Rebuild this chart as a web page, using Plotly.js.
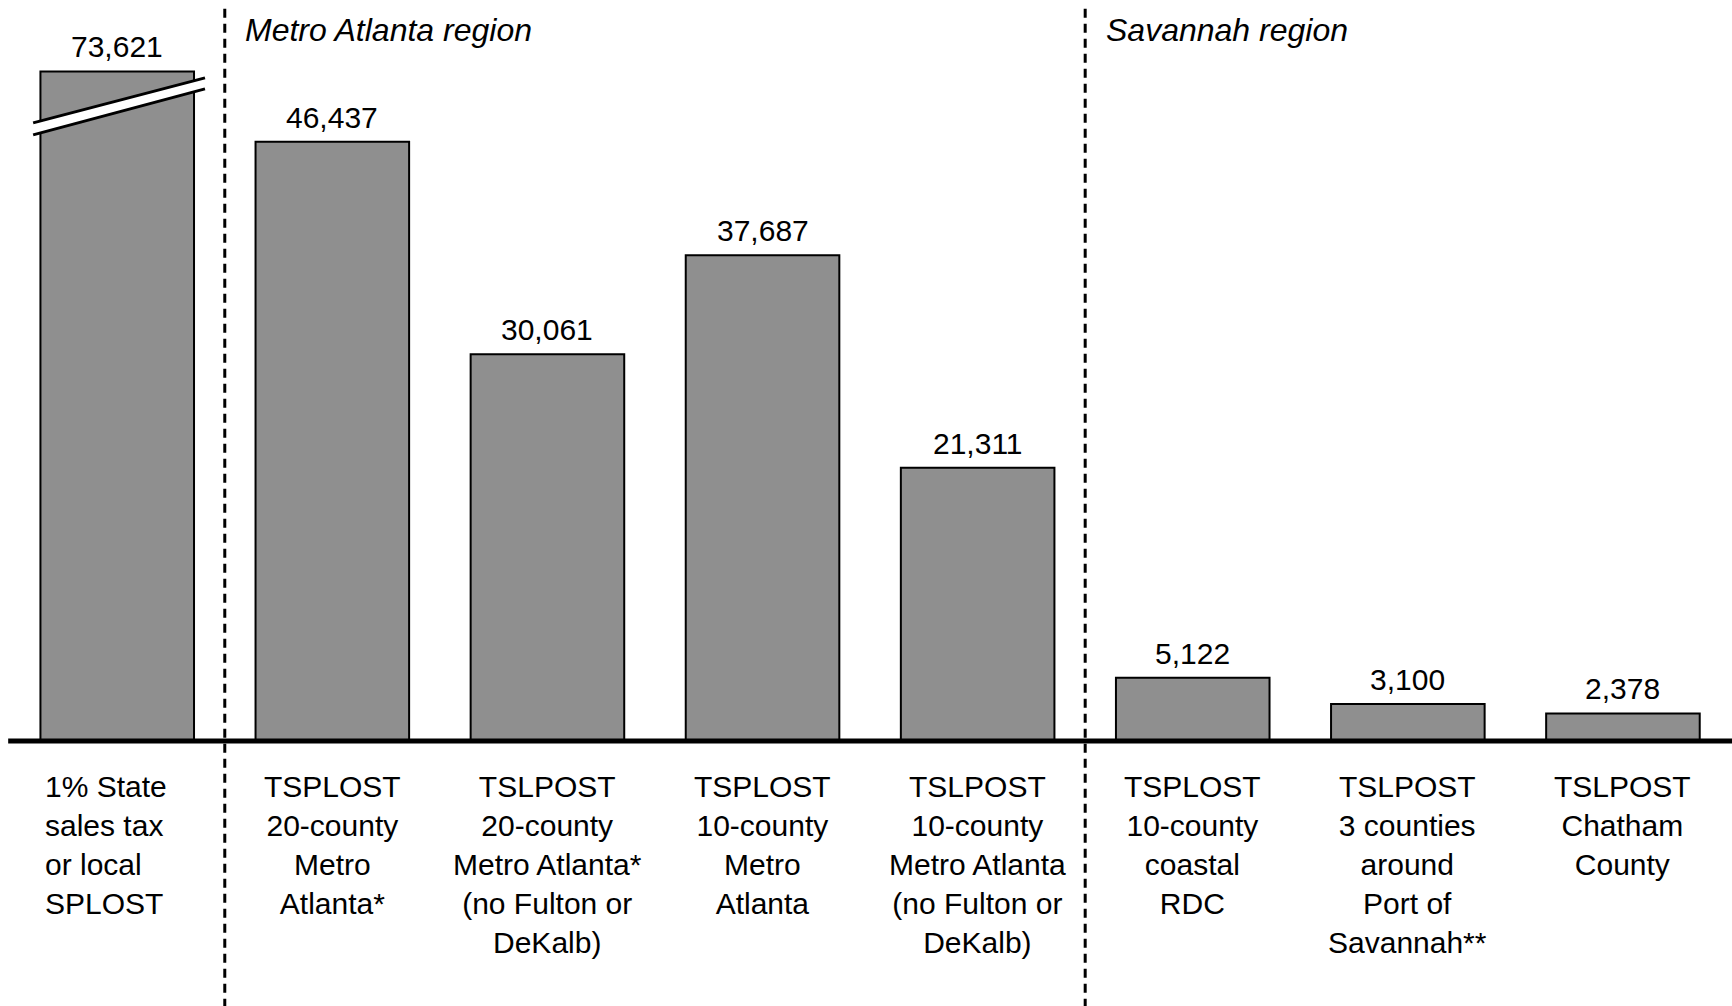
<!DOCTYPE html>
<html>
<head>
<meta charset="utf-8">
<script src="https://cdn.plot.ly/plotly-3.0.1.min.js"></script>
<style>
  html, body { margin: 0; padding: 0; background: #ffffff; }
  #chart { width: 1732px; height: 1006px; }
</style>
</head>
<body>
<div id="chart"></div>
<script>
// ---- data ----
const categories = [
  "1% State<br>sales tax<br>or local<br>SPLOST",
  "TSPLOST<br>20-county<br>Metro<br>Atlanta*",
  "TSLPOST<br>20-county<br>Metro Atlanta*<br>(no Fulton or<br>DeKalb)",
  "TSPLOST<br>10-county<br>Metro<br>Atlanta",
  "TSLPOST<br>10-county<br>Metro Atlanta<br>(no Fulton or<br>DeKalb)",
  "TSPLOST<br>10-county<br>coastal<br>RDC",
  "TSLPOST<br>3 counties<br>around<br>Port of<br>Savannah**",
  "TSLPOST<br>Chatham<br>County"
];
const values = [73621, 46437, 30061, 37687, 21311, 5122, 3100, 2378];
const regionLabels = ["Metro Atlanta region", "Savannah region"];
const regionDividers = [0.5, 4.5];   // between category slots
const regionLabelX = [0.6, 4.6];
// axis break: the tallest bar is drawn cut off at this value
const axisBreakValue = 51850;

// ---- styling ----
const FONT = "Liberation Sans, Arial, sans-serif";
const BAR_FILL = "#8f8f8f";
const idx = categories.map((_, i) => i);
const shown = values.map(v => Math.min(v, axisBreakValue));

const barTrace = {
  type: "bar",
  x: idx,
  y: shown,
  marker: { color: BAR_FILL, line: { color: "#000000", width: 2 } },
  hoverinfo: "skip",
  showlegend: false
};

const annotations = [];
values.forEach((v, i) => {
  annotations.push({
    x: i, y: shown[i], xref: "x", yref: "y",
    text: v.toLocaleString("en-US"),
    showarrow: false, xanchor: "center", yanchor: "bottom", yshift: 6,
    font: { family: FONT, size: 30, color: "#000" }
  });
  const first = i === 0;
  annotations.push({
    x: i, y: 0, xref: "x", yref: "paper",
    text: categories[i],
    showarrow: false,
    xanchor: first ? "left" : "center",
    xshift: first ? -74 : 0,
    yanchor: "top", yshift: -27,
    align: first ? "left" : "center",
    font: { family: FONT, size: 30, color: "#000" }
  });
});
regionLabels.forEach((t, k) => {
  annotations.push({
    x: regionLabelX[k], y: 1, xref: "x", yref: "paper",
    text: "<i>" + t + "</i>",
    showarrow: false, xanchor: "left", yanchor: "middle", yshift: -30, xshift: -3,
    font: { family: FONT, size: 32, color: "#000" }
  });
});

const shapes = [];
regionDividers.forEach(xv => {
  shapes.push({
    type: "line", xref: "x", yref: "paper",
    x0: xv, x1: xv, y0: -0.36, y1: 0.99,
    line: { color: "#000", width: 3, dash: "9px,6px" }
  });
});
// baseline
shapes.push({
  type: "line", xref: "x", yref: "paper",
  x0: -0.507, x1: 7.6, y0: 0, y1: 0,
  line: { color: "#000", width: 5 }
});
// break mark on the first bar
const bk = { x0: -0.391, x1: 0.408, yL1: 46961, yL2: 47885, yR1: 50503, yR2: 51350 };
shapes.push({
  type: "path", xref: "x", yref: "y",
  path: `M ${bk.x0} ${bk.yL1} L ${bk.x1} ${bk.yR1} L ${bk.x1} ${bk.yR2} L ${bk.x0} ${bk.yL2} Z`,
  fillcolor: "#ffffff", line: { width: 0 }
});
shapes.push({
  type: "line", xref: "x", yref: "y",
  x0: bk.x0, y0: bk.yL1, x1: bk.x1, y1: bk.yR1,
  line: { color: "#000", width: 3 }
});
shapes.push({
  type: "line", xref: "x", yref: "y",
  x0: bk.x0, y0: bk.yL2, x1: bk.x1, y1: bk.yR2,
  line: { color: "#000", width: 3 }
});

const layout = {
  width: 1732, height: 1006,
  margin: { l: 0, r: 0, t: 0, b: 265, pad: 0 },
  paper_bgcolor: "#ffffff", plot_bgcolor: "#ffffff",
  bargap: 0.286,
  xaxis: { range: [-0.545, 7.507], visible: false, fixedrange: true },
  yaxis: { range: [255, 57350], visible: false, fixedrange: true },
  annotations: annotations,
  shapes: shapes,
  font: { family: FONT, color: "#000" }
};

Plotly.newPlot("chart", [barTrace], layout, { displayModeBar: false, staticPlot: true });
</script>
</body>
</html>
